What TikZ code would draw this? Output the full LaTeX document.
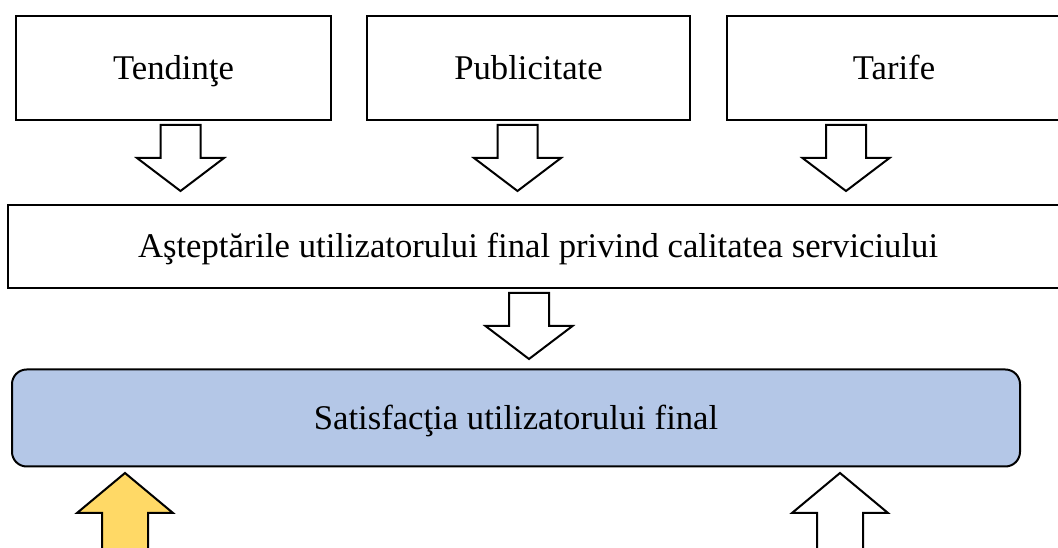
\documentclass[tikz,border=0pt]{standalone}
\usepackage{fontspec}
\setmainfont{Liberation Serif}
\definecolor{satblue}{HTML}{B4C7E7}
\definecolor{arrgold}{HTML}{FFD966}
\begin{document}
\begin{tikzpicture}[x=0.75pt,y=-0.75pt,line width=1.5pt]
		\tikzstyle{every node}+=[inner sep=0pt,text height=17.2pt,text depth=0pt,font=\fontsize{26}{31}\selectfont]
		\tikzstyle{box}=[draw=black,rectangle,fill=white]
		\tikzstyle{blockarr}=[draw=black,fill=white,line join=miter]
		\useasboundingbox (0,0) rectangle (1058,548);
		\clip (0,0) rectangle (1058,548);
		% source boxes
		\node [box,minimum width=236.25pt,minimum height=78pt] (tend) at (173.5,68) {Tendinţe};
		\node [box,minimum width=242.25pt,minimum height=78pt] (publ) at (528.5,68) {Publicitate};
		\node [box,minimum width=250.5pt,minimum height=78pt] (tarif) at (894,68) {Tarife};
		% expectations and satisfaction
		\node [box,minimum width=795pt,minimum height=62.25pt] (astept) at (538,246.5) {Aşteptările utilizatorului final privind calitatea serviciului};
		\node [box,fill=satblue,rounded corners=11pt,minimum width=756pt,minimum height=72.75pt] (satisf) at (516,418) {Satisfacţia utilizatorului final};
		% block arrows down
		\foreach \x/\y in {180.5/125,517.5/125,846/125,529/293}
			\draw [blockarr] (\x-20,\y) -- (\x+20,\y) -- (\x+20,\y+33) -- (\x+43.5,\y+33)
				-- (\x,\y+66) -- (\x-43.5,\y+33) -- (\x-20,\y+33) -- cycle;
		% block arrows up
		\draw [blockarr,fill=arrgold] (125,473) -- (173,513) -- (148,513) -- (148,560)
			-- (102,560) -- (102,513) -- (77,513) -- cycle;
		\draw [blockarr] (840,473) -- (888,513) -- (863,513) -- (863,560)
			-- (817,560) -- (817,513) -- (792,513) -- cycle;
	\end{tikzpicture}
\end{document}
